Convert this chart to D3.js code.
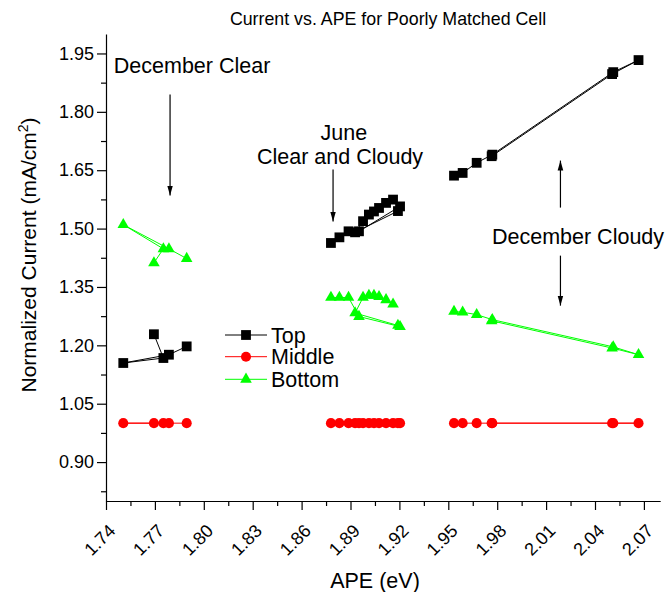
<!DOCTYPE html>
<html><head><meta charset="utf-8">
<script src="https://cdn.jsdelivr.net/npm/d3@7"></script>
<style>
body{margin:0;background:#fff}
svg{display:block}
text{font-family:"Liberation Sans",Arial,Helvetica,sans-serif;fill:#000}
</style>
</head><body>
<svg id="chart" width="665" height="592"></svg>
<script>
// ---------- data ----------
const xTickValues = [1.74,1.77,1.80,1.83,1.86,1.89,1.92,1.95,1.98,2.01,2.04,2.07];
const xTickLabels = ["1.74","1.77","1.80","1.83","1.86","1.89","1.92","1.95","1.98","2.01","2.04","2.07"];
const yTickValues = [0.90,1.05,1.20,1.35,1.50,1.65,1.80,1.95];
const yTickLabels = ["0.90","1.05","1.20","1.35","1.50","1.65","1.80","1.95"];
const seriesNames = ["Top","Middle","Bottom"];

// December Clear (points in recorded order)
const decClearX      = [1.7694, 1.7752, 1.7506, 1.7786, 1.7895];
const decClearTop    = [1.2285, 1.1674, 1.1546, 1.1759, 1.1973];
const decClearMiddle = [1.000, 1.000, 1.000, 1.000, 1.000];
const decClearBottom = [1.412, 1.448, 1.510, 1.448, 1.423];

// June Clear and Cloudy
const juneX      = [1.8780, 1.8832, 1.8888, 1.8952, 1.9204, 1.9191, 1.8928, 1.8977, 1.9013, 1.9044, 1.9075, 1.9118, 1.9161];
const juneTop    = [1.463, 1.4775, 1.493, 1.493, 1.557, 1.545, 1.4904, 1.519, 1.536, 1.544, 1.553, 1.566, 1.5745];
const juneMiddle = [1.000, 1.000, 1.000, 1.000, 1.000, 1.000, 1.000, 1.000, 1.000, 1.000, 1.000, 1.000, 1.000];
const juneBottom = [1.323, 1.323, 1.323, 1.274, 1.248, 1.251, 1.283, 1.323, 1.328, 1.328, 1.325, 1.317, 1.306];

// December Cloudy
const decCloudyX      = [1.9535, 1.9588, 1.9674, 1.9770, 2.0512, 2.0667, 2.0505, 1.9766];
const decCloudyTop    = [1.636, 1.643, 1.669, 1.690, 1.902, 1.933, 1.897, 1.686];
const decCloudyMiddle = [1.000, 1.000, 1.000, 1.000, 1.000, 1.000, 1.000, 1.000];
const decCloudyBottom = [1.287, 1.285, 1.279, 1.266, 1.196, 1.176, 1.193, 1.263];

// annotations (data coordinates)
const annotationTexts = [
  {text:"December Clear", x:1.7448, y:1.8988, anchor:"start"},
  {text:"June", x:1.8859, y:1.7288, anchor:"middle"},
  {text:"Clear and Cloudy", x:1.8836, y:1.667, anchor:"middle"},
  {text:"December Cloudy", x:1.9768, y:1.4614, anchor:"start"}
];
const annotationArrows = [
  {x:1.7793, y1:1.8445, y2:1.5848},
  {x:1.8793, y1:1.6516, y2:1.5179},
  {x:2.0188, y1:1.5539, y2:1.6748},
  {x:2.0188, y1:1.4305, y2:1.3020}
];

// ---------- drawing ----------
const svg = d3.select("#chart");
const x = d3.scaleLinear().domain([1.74, 2.08]).range([106, 660.2]);
const y = d3.scaleLinear().domain([0.80, 2.00]).range([501, 34]);

const colors = {Top:"#000000", Middle:"#ff0000", Bottom:"#00ff00"};
const symbols = {Top:d3.symbolSquare, Middle:d3.symbolCircle, Bottom:d3.symbolTriangle};
const symSize = {Top:96, Middle:80, Bottom:58};

svg.append("defs").append("marker")
  .attr("id","arrow").attr("viewBox","0 0 10 10").attr("refX",10).attr("refY",5)
  .attr("markerWidth",10).attr("markerHeight",10).attr("markerUnits","userSpaceOnUse")
  .attr("orient","auto")
  .append("path").attr("d","M0,2.2L10,5L0,7.8Z").attr("fill","#000");

// axes
const minorY = d3.range(0.825, 2.0, 0.15);
const minorX = d3.range(1.755, 2.08, 0.03);

const yAxis = svg.append("g").attr("transform","translate(106,0)")
  .call(d3.axisLeft(y).tickValues(yTickValues).tickSize(9).tickSizeOuter(0).tickPadding(3)
    .tickFormat((d,i)=>yTickLabels[i]));
svg.append("g").attr("transform","translate(106,0)")
  .call(d3.axisLeft(y).tickValues(minorY).tickSize(5).tickSizeOuter(0).tickFormat(""))
  .select(".domain").remove();

const xAxis = svg.append("g").attr("transform","translate(0,501)")
  .call(d3.axisBottom(x).tickValues(xTickValues).tickSize(9).tickSizeOuter(0)
    .tickFormat((d,i)=>xTickLabels[i]));
svg.append("g").attr("transform","translate(0,501)")
  .call(d3.axisBottom(x).tickValues(minorX).tickSize(5).tickSizeOuter(0).tickFormat(""))
  .select(".domain").remove();

svg.selectAll(".domain, .tick line").attr("stroke","#000").attr("stroke-width",1.2);
yAxis.selectAll("text").attr("font-size","18px").attr("fill","#000");
xAxis.selectAll("text").attr("font-size","18px").attr("fill","#000")
  .attr("x",0).attr("y",0).attr("dy",null)
  .attr("text-anchor","end")
  .attr("transform","translate(10,31) rotate(-45)");

// title & axis labels
svg.append("text").attr("x",388).attr("y",25).attr("text-anchor","middle")
  .attr("font-size","17.8px").text("Current vs. APE for Poorly Matched Cell");
svg.append("text").attr("x",375).attr("y",588).attr("text-anchor","middle")
  .attr("font-size","21.5px").text("APE (eV)");
const yl = svg.append("text").attr("transform","translate(36,255) rotate(-90)")
  .attr("text-anchor","middle").attr("font-size","21px");
yl.append("tspan").text("Normalized Current (mA/cm");
yl.append("tspan").attr("baseline-shift","super").attr("font-size","14px").text("2");
yl.append("tspan").text(")");

// series
const groups = [
  {x:decClearX, Top:decClearTop, Middle:decClearMiddle, Bottom:decClearBottom},
  {x:juneX, Top:juneTop, Middle:juneMiddle, Bottom:juneBottom},
  {x:decCloudyX, Top:decCloudyTop, Middle:decCloudyMiddle, Bottom:decCloudyBottom}
];
const line = d3.line().x(d=>x(d[0])).y(d=>y(d[1]));

seriesNames.forEach(name=>{
  const g = svg.append("g");
  groups.forEach(grp=>{
    const pts = grp.x.map((v,i)=>[v, grp[name][i]]);
    g.append("path").attr("d", line(pts)).attr("fill","none")
      .attr("stroke", colors[name]).attr("stroke-width",1);
  });
  groups.forEach(grp=>{
    const pts = grp.x.map((v,i)=>[v, grp[name][i]]);
    g.selectAll(null).data(pts).enter().append("path")
      .attr("d", d3.symbol().type(symbols[name]).size(symSize[name])())
      .attr("transform", d=>`translate(${x(d[0])},${y(d[1])})`)
      .attr("fill", colors[name]);
  });
});

// legend
const legendRows = [335, 356.7, 379.3];
seriesNames.forEach((name,i)=>{
  const ly = legendRows[i];
  svg.append("line").attr("x1",225).attr("x2",267).attr("y1",ly).attr("y2",ly)
    .attr("stroke",colors[name]).attr("stroke-width",1);
  svg.append("path").attr("d", d3.symbol().type(symbols[name]).size(symSize[name])())
    .attr("transform",`translate(246,${ly})`).attr("fill",colors[name]);
  svg.append("text").attr("x",271).attr("y",ly).attr("dy","0.36em")
    .attr("font-size","21.5px").text(name);
});

// annotations
annotationTexts.forEach(a=>{
  svg.append("text").attr("x",x(a.x)).attr("y",y(a.y)).attr("text-anchor",a.anchor)
    .attr("font-size","21.5px").text(a.text);
});
annotationArrows.forEach(a=>{
  svg.append("line").attr("x1",x(a.x)).attr("x2",x(a.x)).attr("y1",y(a.y1)).attr("y2",y(a.y2))
    .attr("stroke","#000").attr("stroke-width",1.2).attr("marker-end","url(#arrow)");
});
</script>
</body></html>
